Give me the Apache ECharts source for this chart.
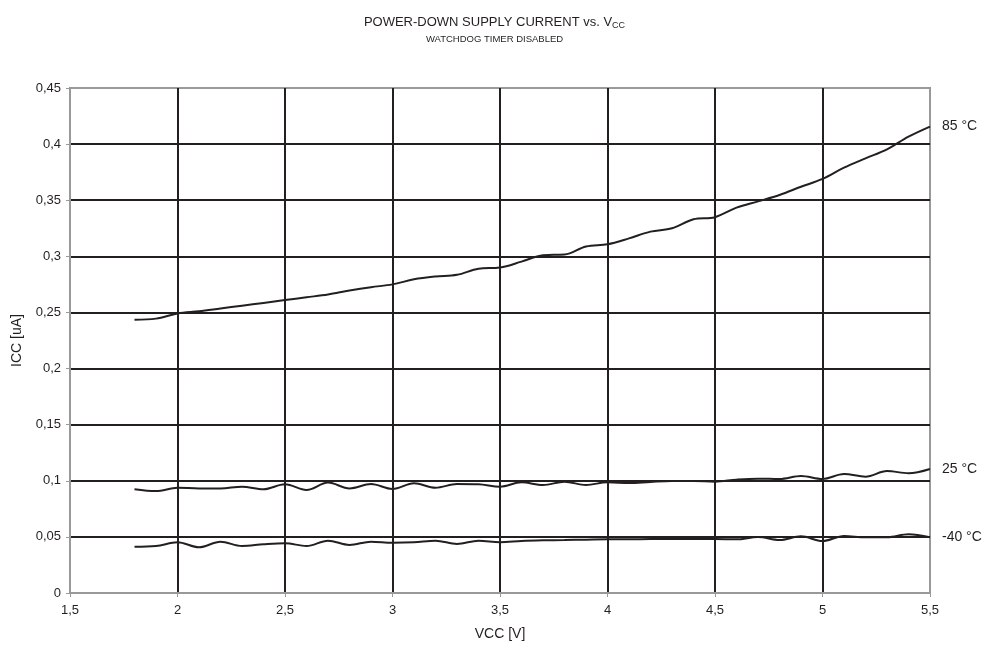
<!DOCTYPE html>
<html><head><meta charset="utf-8">
<script src="https://cdn.jsdelivr.net/npm/echarts@6/dist/echarts.min.js"></script>
<style>html,body{margin:0;padding:0;background:#fff}#c{width:989px;height:648px}</style>
</head><body><div id="c"></div>
<script>
const vcc = [1.8,1.9,2.0,2.1,2.2,2.3,2.4,2.5,2.6,2.7,2.8,2.9,3.0,3.1,3.2,3.3,3.4,3.5,3.6,3.7,3.8,3.9,4.0,4.1,4.2,4.3,4.4,4.5,4.6,4.7,4.8,4.9,5.0,5.1,5.2,5.3,5.4,5.5];
const icc85 = [0.2435,0.2445,0.249,0.251,0.2535,0.256,0.2585,0.261,0.2635,0.266,0.2695,0.2725,0.275,0.2795,0.282,0.2835,0.289,0.290,0.2953,0.301,0.3016,0.3088,0.3108,0.316,0.322,0.325,0.333,0.3349,0.3434,0.349,0.3547,0.362,0.369,0.379,0.3873,0.3953,0.4066,0.4156];
const icc25 = [0.0925,0.0908,0.0938,0.0932,0.0932,0.0947,0.0925,0.0969,0.0918,0.0984,0.0932,0.0971,0.0927,0.0978,0.0938,0.0971,0.0968,0.0947,0.0986,0.0962,0.0992,0.0962,0.0987,0.098,0.099,0.0998,0.0998,0.0992,0.101,0.1019,0.1016,0.1043,0.1016,0.106,0.1037,0.1087,0.1067,0.1105];
const iccM40 = [0.0413,0.0419,0.0452,0.0407,0.0457,0.0419,0.0434,0.0443,0.0419,0.0466,0.0428,0.0457,0.0448,0.0452,0.0466,0.0437,0.0466,0.0452,0.0463,0.0469,0.0472,0.0475,0.0478,0.0478,0.0481,0.0481,0.0481,0.0481,0.0478,0.0499,0.0472,0.0505,0.0463,0.0508,0.0496,0.0496,0.0523,0.0496];
const seriesNames = ['85 °C','25 °C','-40 °C'];
const xTicks = {min:1.5, max:5.5, step:0.5};
const yTicks = {min:0, max:0.45, step:0.05};

const pair = arr => vcc.map((v,i)=>[v,arr[i]]);
const comma = v => String(+v.toFixed(2)).replace('.', ',');
const chart = echarts.init(document.getElementById('c'));
const lineSeries = (name, arr) => ({
  name, type:'line', data: pair(arr), smooth:0.35, symbol:'none',
  lineStyle:{color:'#231f20', width:2}, z:5,
  endLabel:{show:true, formatter:name, color:'#231f20', fontSize:14, distance:12, fontFamily:'Liberation Sans'}
});
chart.setOption({
  animation:false,
  textStyle:{fontFamily:'Liberation Sans'},
  title:[
    {text:'POWER-DOWN SUPPLY CURRENT vs. V{s|CC}', left:'center', top:9,
     textStyle:{fontSize:13, fontWeight:'normal', color:'#231f20', rich:{s:{fontSize:9, verticalAlign:'bottom', padding:[7,0,0,0], color:'#231f20'}}}},
    {text:'WATCHDOG TIMER DISABLED', left:'center', top:29, textStyle:{fontSize:9.5, fontWeight:'normal', color:'#231f20'}}
  ],
  grid:{left:70, right:59, top:88, bottom:55, show:true, borderColor:'#999', borderWidth:2, backgroundColor:'#fff'},
  xAxis:{type:'value', min:xTicks.min, max:xTicks.max, interval:xTicks.step,
    name:'VCC [V]', nameLocation:'middle', nameGap:34, nameTextStyle:{fontSize:14, color:'#231f20'},
    axisLine:{show:true, onZero:false, lineStyle:{color:'#999', width:2}},
    axisTick:{show:true, length:4, lineStyle:{color:'#999'}},
    axisLabel:{formatter:comma, fontSize:13, color:'#231f20', margin:11},
    splitLine:{show:true, showMinLine:false, showMaxLine:false, lineStyle:{color:'#231f20', width:2}}},
  yAxis:{type:'value', min:yTicks.min, max:yTicks.max, interval:yTicks.step,
    name:'ICC [uA]', nameLocation:'middle', nameGap:46, nameTextStyle:{fontSize:14, color:'#231f20'},
    axisLine:{show:true, lineStyle:{color:'#999', width:2}},
    axisTick:{show:true, length:4, lineStyle:{color:'#999'}},
    axisLabel:{formatter:comma, fontSize:13, color:'#231f20', margin:9},
    splitLine:{show:true, showMinLine:false, showMaxLine:false, lineStyle:{color:'#231f20', width:2}}},
  series:[lineSeries(seriesNames[0], icc85), lineSeries(seriesNames[1], icc25), lineSeries(seriesNames[2], iccM40)]
});
</script></body></html>
